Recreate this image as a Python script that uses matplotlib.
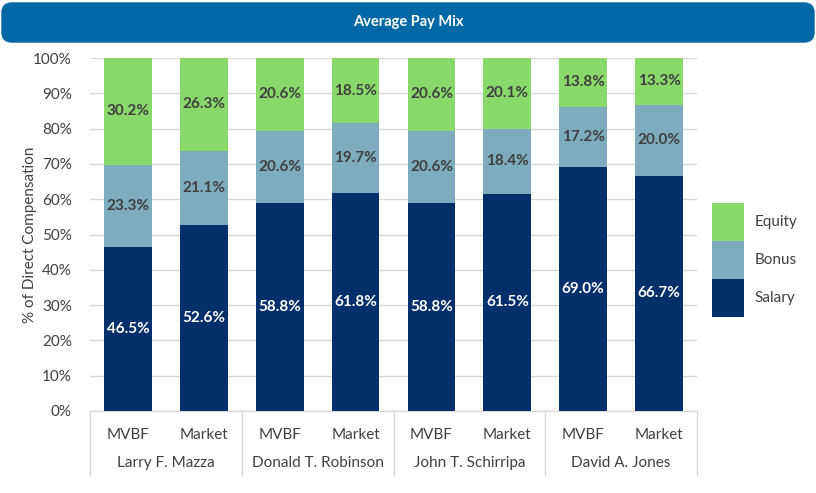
import matplotlib
matplotlib.use("Agg")
import matplotlib.pyplot as plt
from matplotlib.patches import FancyBboxPatch, Patch
from matplotlib.lines import Line2D
import numpy as np

plt.rcParams['font.family'] = ['Lato', 'DejaVu Sans']

sub_labels = ["MVBF", "Market", "MVBF", "Market", "MVBF", "Market", "MVBF", "Market"]
groups = ["Larry F. Mazza", "Donald T. Robinson", "John T. Schirripa", "David A. Jones"]
salary = [46.5, 52.6, 58.8, 61.8, 58.8, 61.5, 69.0, 66.7]
bonus = [23.3, 21.1, 20.6, 19.7, 20.6, 18.4, 17.2, 20.0]
equity = [30.2, 26.3, 20.6, 18.5, 20.6, 20.1, 13.8, 13.3]
yticks = [0, 10, 20, 30, 40, 50, 60, 70, 80, 90, 100]

c_sal = "#03306B"
c_bon = "#7EACBF"
c_eq = "#89D86A"

W, H = 816, 493
fig = plt.figure(figsize=(W / 100, H / 100), dpi=100)
ax = fig.add_axes([90 / W, 1 - 411 / H, (697 - 90) / W, (411 - 58) / H])

x = np.arange(len(salary))
bw = 0.63
sal = np.array(salary); bon = np.array(bonus); eq = np.array(equity)
ax.bar(x, sal, bw, color=c_sal, zorder=3)
ax.bar(x, bon, bw, bottom=sal, color=c_bon, zorder=3)
ax.bar(x, eq, bw, bottom=sal + bon, color=c_eq, zorder=3)

fs = 11
for i in range(len(x)):
    ax.text(x[i], sal[i] / 2, f"{sal[i]:.1f}%", ha="center", va="center",
            color="white", fontsize=fs, fontweight="bold", zorder=4)
    ax.text(x[i], sal[i] + bon[i] / 2, f"{bon[i]:.1f}%", ha="center", va="center",
            color="#404040", fontsize=fs, fontweight="bold", zorder=4)
    ax.text(x[i], sal[i] + bon[i] + eq[i] / 2, f"{eq[i]:.1f}%", ha="center", va="center",
            color="#404040", fontsize=fs, fontweight="bold", zorder=4)

ax.set_xlim(-0.5, len(x) - 0.5)
ax.set_ylim(0, 100)
ax.set_yticks(yticks)
ax.set_yticklabels([f"{v}%" for v in yticks], fontsize=fs, color="#404040")
ax.yaxis.grid(True, color="#D9D9D9", linewidth=1, zorder=0)
ax.tick_params(axis="y", length=0, pad=13)
ax.set_xticks(x)
ax.set_xticklabels(sub_labels, fontsize=fs, color="#404040")
ax.tick_params(axis="x", length=0, pad=12)
for s in ["top", "right", "left"]:
    ax.spines[s].set_visible(False)
ax.spines["bottom"].set_color("#D9D9D9")
ax.set_ylabel("% of Direct Compensation", fontsize=fs, color="#404040", labelpad=-3)

# group labels and separators
trans = ax.get_xaxis_transform()
bottom_y = -(475 - 411) / (411 - 58)
for gi, g in enumerate(groups):
    ax.text(gi * 2 + 0.5, -(463 - 411) / (411 - 58), g, transform=trans,
            ha="center", va="center", fontsize=fs, color="#404040")
for b in range(len(groups) + 1):
    ax.add_line(Line2D([b * 2 - 0.5, b * 2 - 0.5], [0, bottom_y], transform=trans,
                       color="#D9D9D9", linewidth=1, clip_on=False))

# legend
handles = [Patch(facecolor=c_eq, label="Equity"),
           Patch(facecolor=c_bon, label="Bonus"),
           Patch(facecolor=c_sal, label="Salary")]
fig.legend(handles=handles, loc="center left", bbox_to_anchor=(698 / W, 1 - 260 / H),
           frameon=False, fontsize=fs, handlelength=2.1, handleheight=3.45,
           labelspacing=0.0, handletextpad=0.7, labelcolor="#404040")

# title bar
bar = FancyBboxPatch((2 / W, 1 - 42 / H), (812) / W, 39 / H,
                     boxstyle="round,pad=0,rounding_size=0.012",
                     transform=fig.transFigure, facecolor="#0068A5", edgecolor="#0068A5",
                     mutation_aspect=W / H)
fig.patches.append(bar)
fig.text(408 / W, 1 - 22 / H, "Average Pay Mix", color="white", fontsize=10.5,
         fontweight="bold", ha="center", va="center")

fig.savefig("out.png", dpi=100)
